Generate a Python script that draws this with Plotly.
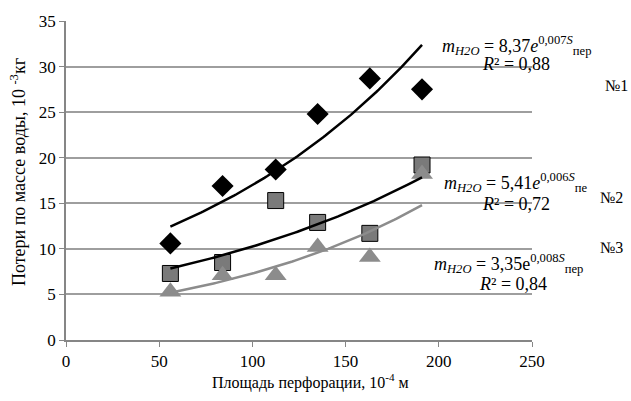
import numpy as np
import plotly.graph_objects as go

# Data
S = [56, 84, 112.5, 135, 163, 191]
series1 = [10.6, 16.9, 18.7, 24.8, 28.7, 27.5]   # №1 diamonds
series2 = [7.3, 8.5, 15.3, 12.9, 11.7, 19.2]     # №2 squares
series3 = [5.3, 7.1, 7.1, 10.2, 9.1, 18.2]       # №3 triangles

x_ticks = [0, 50, 100, 150, 200, 250]
y_ticks = [0, 5, 10, 15, 20, 25, 30, 35]

eq_texts = [
    "<i>m</i><sub><i>H2O</i></sub> = 8,37<i>e</i><sup>0,007<i>S</i></sup><sub>пер</sub>",
    "<i>m</i><sub><i>H2O</i></sub> = 5,41<i>e</i><sup>0,006<i>S</i></sup><sub>пе</sub>",
    "<i>m</i><sub><i>H2O</i></sub> = 3,35e<sup>0,008<i>S</i></sup><sub>пер</sub>",
]
r2_texts = ["<i>R</i>² = 0,88", "<i>R</i>² = 0,72", "<i>R</i>² = 0,84"]
num_labels = ["№1", "№2", "№3"]

FONT = "Liberation Serif"
GRAY = "#7a7a7a"

fig = go.Figure()

# markers
fig.add_trace(go.Scatter(x=S, y=series1, mode="markers",
                         marker=dict(symbol="diamond", size=17, color="black"),
                         showlegend=False))
fig.add_trace(go.Scatter(x=S, y=series2, mode="markers",
                         marker=dict(symbol="square", size=16, color=GRAY,
                                     line=dict(color="black", width=1)),
                         showlegend=False))
fig.add_trace(go.Scatter(x=S, y=series3, mode="markers",
                         marker=dict(symbol="triangle-up", size=19, color="#8c8c8c"),
                         showlegend=False))

# exponential trendlines fitted from data
xs = np.linspace(min(S), max(S), 100)
for ys, col in [(series1, "black"), (series2, "black"), (series3, "#8c8c8c")]:
    b, lna = np.polyfit(S, np.log(ys), 1)
    fig.add_trace(go.Scatter(x=xs, y=np.exp(lna) * np.exp(b * xs), mode="lines",
                             line=dict(color=col, width=2.5), showlegend=False,
                             hoverinfo="skip"))

L, R, T, B = 66, 99, 19, 61
W, H = 631, 401
pw, ph = W - L - R, H - T - B

def px(xp):
    return (xp - L) / pw

def py(yp):
    return (H - B - yp) / ph

ann = []
eq_pos = [(516, 44), (516, 182), (508, 263)]
r2_pos = [(516, 62), (516, 203), (513, 284)]
num_pos = [(616, 84), (611, 197), (611, 247)]
for i in range(3):
    ann.append(dict(text=eq_texts[i], x=px(eq_pos[i][0]), y=py(eq_pos[i][1]),
                    xref="paper", yref="paper", showarrow=False,
                    xanchor="center", yanchor="middle",
                    font=dict(family=FONT, size=18, color="black")))
    ann.append(dict(text=r2_texts[i], x=px(r2_pos[i][0]), y=py(r2_pos[i][1]),
                    xref="paper", yref="paper", showarrow=False,
                    xanchor="center", yanchor="middle",
                    font=dict(family=FONT, size=18, color="black")))
    ann.append(dict(text=num_labels[i], x=px(num_pos[i][0]), y=py(num_pos[i][1]),
                    xref="paper", yref="paper", showarrow=False,
                    xanchor="center", yanchor="middle",
                    font=dict(family=FONT, size=16, color="black")))

# axis titles
ann.append(dict(text="Площадь перфорации, 10<sup>-4</sup> м", x=px(310), y=py(382),
                xref="paper", yref="paper", showarrow=False,
                xanchor="center", yanchor="middle",
                font=dict(family=FONT, size=16, color="black")))
ann.append(dict(text="Потери по массе воды, 10 <sup>-3</sup>кг", x=px(18), y=py(171),
                xref="paper", yref="paper", showarrow=False, textangle=-90,
                xanchor="center", yanchor="middle",
                font=dict(family=FONT, size=18, color="black")))

fig.update_layout(
    width=W, height=H,
    margin=dict(l=L, r=R, t=T, b=B),
    plot_bgcolor="white", paper_bgcolor="white",
    font=dict(family=FONT, size=17, color="black"),
    annotations=ann,
    xaxis=dict(range=[0, 250], tickvals=x_ticks, showgrid=False, zeroline=False,
               showline=True, linecolor="#868686", linewidth=1.5,
               ticks="outside", ticklen=5, tickcolor="#868686",
               tickfont=dict(family=FONT, size=17)),
    yaxis=dict(range=[0, 35], tickvals=y_ticks, showgrid=True, gridcolor="#9e9e9e",
               gridwidth=1.5, zeroline=False,
               showline=True, linecolor="#868686", linewidth=1.5,
               ticks="outside", ticklen=5, tickcolor="#868686",
               tickfont=dict(family=FONT, size=17)),
)

fig.write_html("out.html", config={"displayModeBar": False},
               post_script="document.body.style.margin='0px';")
